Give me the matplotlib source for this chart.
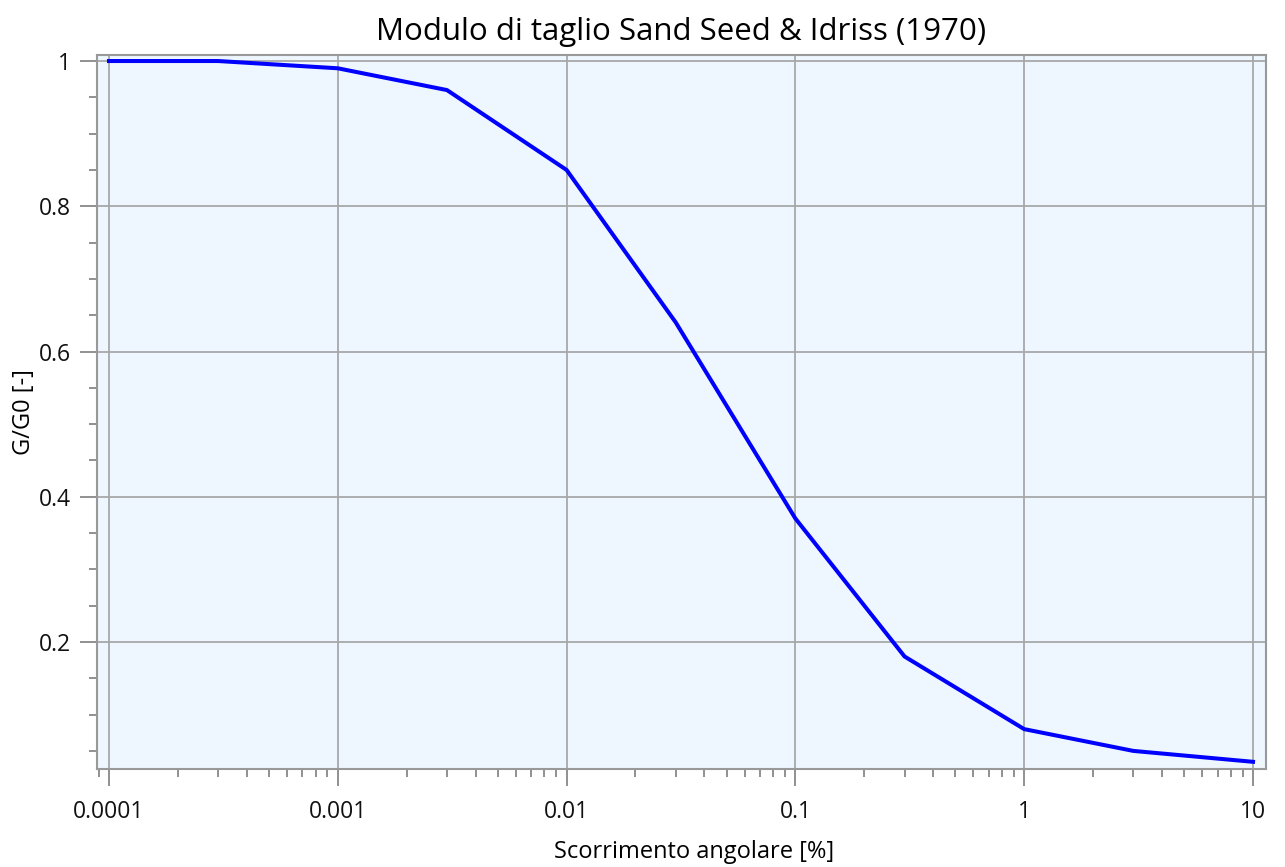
import matplotlib
matplotlib.use('Agg')
import matplotlib.pyplot as plt
from matplotlib.ticker import FixedLocator, FixedFormatter, LogLocator, NullFormatter, MultipleLocator

# data
strain = [0.0001, 0.0003, 0.001, 0.003, 0.01, 0.03, 0.1, 0.3, 1, 3, 10]
g_ratio = [1.0, 1.0, 0.99, 0.96, 0.85, 0.64, 0.37, 0.18, 0.08, 0.05, 0.035]
xtick_vals = [0.0001, 0.001, 0.01, 0.1, 1, 10]
xtick_labels = ['0.0001', '0.001', '0.01', '0.1', '1', '10']
ytick_vals = [0.2, 0.4, 0.6, 0.8, 1.0]
ytick_labels = ['0.2', '0.4', '0.6', '0.8', '1']

plt.rcParams['font.family'] = ['Open Sans', 'DejaVu Sans']

fig = plt.figure(figsize=(12.85, 8.67), dpi=100)
ax = fig.add_axes([97 / 1285, 1 - 769 / 867, (1266 - 97) / 1285, (769 - 55) / 867])
ax.set_facecolor('#EEF6FF')

ax.plot(strain, g_ratio, color='#0000FF', linewidth=2.9, zorder=3)

ax.set_xscale('log')
ax.set_xlim(10 ** -4.0524, 10 ** 1.0568)
ax.set_ylim(0.0251, 1.0083)

ax.xaxis.set_major_locator(FixedLocator(xtick_vals))
ax.xaxis.set_major_formatter(FixedFormatter(xtick_labels))
ax.xaxis.set_minor_locator(LogLocator(base=10, subs=range(2, 10)))
ax.xaxis.set_minor_formatter(NullFormatter())
ax.yaxis.set_major_locator(FixedLocator(ytick_vals))
ax.yaxis.set_major_formatter(FixedFormatter(ytick_labels))
ax.yaxis.set_minor_locator(MultipleLocator(0.05))

ax.grid(True, which='major', color='#A8A8A8', linewidth=1.3)
ax.set_axisbelow(True)
for s in ax.spines.values():
    s.set_color('#999999')
    s.set_linewidth(1.5)

ax.tick_params(which='major', length=12, width=1.3, color='#888888', labelsize=16.5, labelcolor='#111111')
ax.tick_params(axis='x', which='major', pad=10)
ax.tick_params(axis='y', which='major', pad=7)
ax.tick_params(which='minor', length=6, width=1.3, color='#888888')

ax.set_title('Modulo di taglio Sand Seed & Idriss (1970)', fontsize=22.5, pad=11)
ax.set_xlabel('Scorrimento angolare [%]', fontsize=17, labelpad=12, x=0.511)
ax.set_ylabel('G/G0 [-]', fontsize=17, labelpad=2)

fig.savefig('out.png', dpi=100)
